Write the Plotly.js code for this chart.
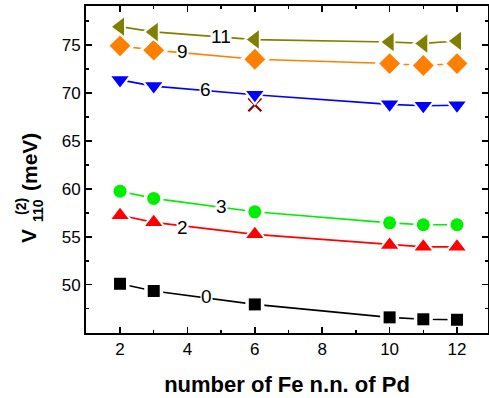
<!DOCTYPE html>
<html>
<head>
<meta charset="utf-8">
<script src="https://cdn.plot.ly/plotly-3.0.1.min.js"></script>
<style>html,body{margin:0;padding:0;background:#fff;}#chart{width:489px;height:398px;}</style>
</head>
<body>
<div id="chart"></div>
<script>
const xVals = [2, 3, 6, 10, 11, 12];
const series0 = [50.1, 49.35, 47.95, 46.6, 46.4, 46.35];
const series2 = [57.25, 56.5, 55.25, 54.15, 53.95, 53.95];
const series3 = [59.75, 59.0, 57.6, 56.45, 56.25, 56.25];
const series6 = [71.35, 70.7, 69.8, 68.8, 68.65, 68.7];
const series9 = [74.9, 74.45, 73.5, 73.05, 72.85, 73.05];
const series11 = [76.9, 76.35, 75.55, 75.3, 75.15, 75.4];
const crossX = [6];
const crossY = [68.75];
const seriesLabels = ['0', '2', '3', '6', '9', '11'];
const labelX = [4.58, 3.84, 5.0, 4.54, 3.84, 5.0];
const labelY = [48.8, 56.0, 58.2, 70.3, 74.3, 75.85];
const yTickVals = [50, 55, 60, 65, 70, 75];

const colors = ['#000000', '#ff0000', '#00ee00', '#0000ff', '#ff8000', '#808000'];
const symbols = ['square', 'triangle-up', 'circle', 'triangle-down', 'diamond', 'triangle-left'];
const sizes = [12, 15, 13, 15, 16, 16];
const allSeries = [series0, series2, series3, series6, series9, series11];

const traces = [];
traces.push({x: crossX, y: crossY, mode: 'markers', type: 'scatter',
  marker: {symbol: 'x-thin-open', size: 13, color: '#800000', line: {color: '#800000', width: 2.2}}, showlegend: false});
allSeries.forEach((s, i) => {
  traces.push({x: xVals, y: s, mode: 'lines', type: 'scatter', line: {color: colors[i], width: 1.6}, showlegend: false, hoverinfo: 'skip'});
  traces.push({x: xVals, y: s, mode: 'markers', type: 'scatter', marker: {symbol: symbols[i], size: sizes[i] + 7, color: '#ffffff'}, showlegend: false, hoverinfo: 'skip'});
  traces.push({x: xVals, y: s, mode: 'markers', type: 'scatter', marker: {symbol: symbols[i], size: sizes[i], color: colors[i]}, showlegend: false});
});

function px(p) { return (p - 86) / 402; }
function py(p) { return (333 - p) / 327; }

const fam = 'Arial, Liberation Sans, sans-serif';
const annotations = seriesLabels.map((t, i) => ({
  x: labelX[i], y: labelY[i], xref: 'x', yref: 'y', text: t, showarrow: false,
  font: {family: fam, size: 19, color: '#000'},
  bgcolor: '#ffffff', borderpad: 0, xanchor: 'center', yanchor: 'middle'
}));
const titleFont = {family: fam, size: 21, color: '#000'};
annotations.push({x: px(28), y: py(236), xref: 'paper', yref: 'paper', text: '<b>V</b>', textangle: -90, showarrow: false, font: titleFont, xanchor: 'center', yanchor: 'middle'});
annotations.push({x: px(21), y: py(207), xref: 'paper', yref: 'paper', text: '<b>(2)</b>', textangle: -90, showarrow: false, font: {family: fam, size: 14, color: '#000'}, xanchor: 'center', yanchor: 'middle'});
annotations.push({x: px(38), y: py(211), xref: 'paper', yref: 'paper', text: '<b>110</b>', textangle: -90, showarrow: false, font: {family: fam, size: 14, color: '#000'}, xanchor: 'center', yanchor: 'middle'});
annotations.push({x: px(29), y: py(162), xref: 'paper', yref: 'paper', text: '<b>(meV)</b>', textangle: -90, showarrow: false, font: titleFont, xanchor: 'center', yanchor: 'middle'});

const axisCommon = {
  showline: true, linecolor: '#000', linewidth: 2, mirror: 'ticks',
  ticks: 'inside', ticklen: 6, tickwidth: 1.5, tickcolor: '#000',
  showgrid: false, zeroline: false,
  tickfont: {family: fam, size: 17, color: '#000'}
};
const layout = {
  width: 489, height: 398,
  margin: {l: 86, r: 1, t: 6, b: 65},
  paper_bgcolor: '#fff', plot_bgcolor: '#fff',
  showlegend: false,
  xaxis: Object.assign({}, axisCommon, {
    range: [0.99, 12.92], dtick: 2, tick0: 0,
    minor: {dtick: 1, ticklen: 3, ticks: 'inside', tickcolor: '#000', tickwidth: 1.5},
    title: {text: '<b>number of Fe n.n. of Pd</b>', font: {family: fam, size: 22, color: '#000'}, standoff: 18}
  }),
  yaxis: Object.assign({}, axisCommon, {
    range: [44.97, 79.05], tickmode: 'array', tickvals: yTickVals,
    minor: {tickmode: 'linear', tick0: 0, dtick: 2.5, ticklen: 3, ticks: 'inside', tickcolor: '#000', tickwidth: 1.5}
  }),
  annotations: annotations
};
Plotly.newPlot('chart', traces, layout, {staticPlot: true, displayModeBar: false});
</script>
</body>
</html>
